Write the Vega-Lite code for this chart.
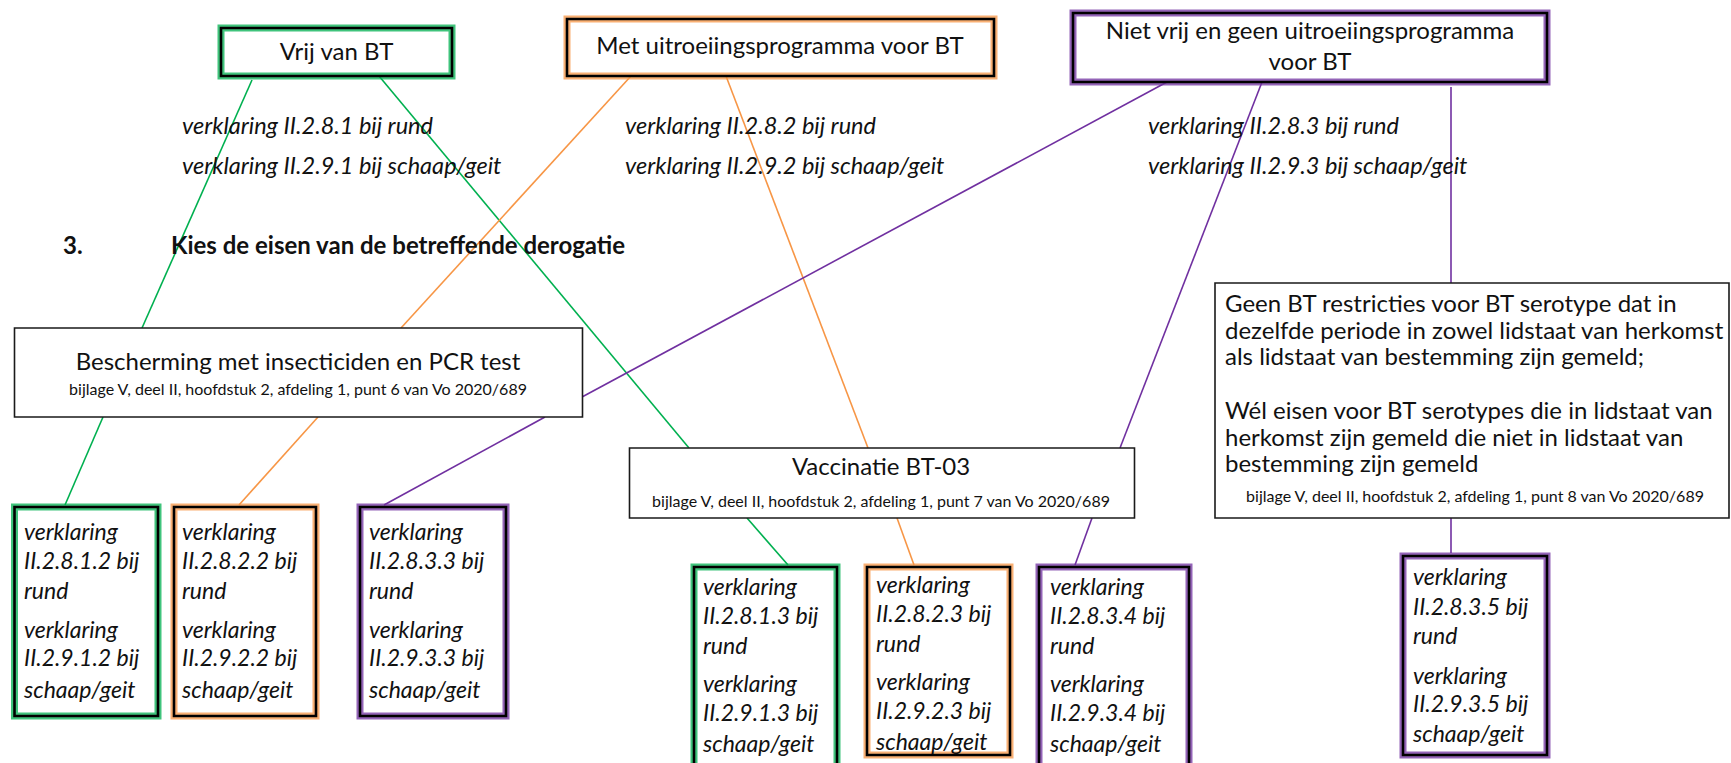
{
  "$schema": "https://vega.github.io/schema/vega-lite/v6.json",
  "width": 1731,
  "height": 763,
  "autosize": {"type": "fit", "contains": "padding"},
  "padding": 0,
  "background": "white",
  "config": {"view": {"stroke": null}},
  "datasets": {
    "glowBoxes": [
      {"name": "Vrij van BT", "grp": "vrij", "x1": 221, "x2": 452, "y1": 28, "y2": 76},
      {"name": "Met uitroeiingsprogramma", "grp": "uitroeiing", "x1": 567, "x2": 994, "y1": 19, "y2": 76},
      {"name": "Niet vrij", "grp": "niet", "x1": 1073, "x2": 1547, "y1": 13, "y2": 82},
      {"name": "II.2.8.1.2", "grp": "vrij", "x1": 14.5, "x2": 158, "y1": 507, "y2": 716},
      {"name": "II.2.8.2.2", "grp": "uitroeiing", "x1": 174, "x2": 316, "y1": 507, "y2": 716},
      {"name": "II.2.8.3.3", "grp": "niet", "x1": 360, "x2": 506, "y1": 507, "y2": 716},
      {"name": "II.2.8.1.3", "grp": "vrij", "x1": 694, "x2": 837, "y1": 567, "y2": 775},
      {"name": "II.2.8.2.3", "grp": "uitroeiing", "x1": 867, "x2": 1010, "y1": 567, "y2": 755},
      {"name": "II.2.8.3.4", "grp": "niet", "x1": 1039, "x2": 1189, "y1": 567, "y2": 775},
      {"name": "II.2.8.3.5", "grp": "niet", "x1": 1403, "x2": 1547, "y1": 556, "y2": 755}
    ],
    "plainBoxes": [
      {"name": "Bescherming", "x1": 14.5, "x2": 582.5, "y1": 328, "y2": 417},
      {"name": "Vaccinatie", "x1": 629.5, "x2": 1134.5, "y1": 448, "y2": 518},
      {"name": "Geen BT restricties", "x1": 1215, "x2": 1729, "y1": 283, "y2": 518}
    ],
    "links": [
      {"grp": "vrij", "x1": 252, "y1": 80, "x2": 142, "y2": 328},
      {"grp": "vrij", "x1": 103, "y1": 417, "x2": 65, "y2": 505},
      {"grp": "vrij", "x1": 379, "y1": 76, "x2": 689, "y2": 448},
      {"grp": "vrij", "x1": 747, "y1": 518, "x2": 788, "y2": 565},
      {"grp": "uitroeiing", "x1": 631, "y1": 76, "x2": 401, "y2": 328},
      {"grp": "uitroeiing", "x1": 318, "y1": 417, "x2": 239, "y2": 505},
      {"grp": "uitroeiing", "x1": 726, "y1": 76, "x2": 868, "y2": 448},
      {"grp": "uitroeiing", "x1": 897, "y1": 518, "x2": 914, "y2": 565},
      {"grp": "niet", "x1": 1167, "y1": 82, "x2": 582, "y2": 397},
      {"grp": "niet", "x1": 545, "y1": 417, "x2": 384, "y2": 505},
      {"grp": "niet", "x1": 1262, "y1": 82, "x2": 1120, "y2": 448},
      {"grp": "niet", "x1": 1092, "y1": 518, "x2": 1075, "y2": 565},
      {"grp": "niet", "x1": 1451, "y1": 87, "x2": 1451, "y2": 283},
      {"grp": "niet", "x1": 1451, "y1": 518, "x2": 1451, "y2": 553}
    ],
    "titles": [
      {"t": "Vrij van BT", "x": 336.5, "y": 53},
      {"t": "Met uitroeiingsprogramma voor BT", "x": 780, "y": 47},
      {"t": "Niet vrij en geen uitroeiingsprogramma", "x": 1310, "y": 32},
      {"t": "voor BT", "x": 1310, "y": 63},
      {"t": "Bescherming met insecticiden en PCR test", "x": 298, "y": 363},
      {"t": "Vaccinatie BT-03", "x": 881, "y": 468}
    ],
    "subs": [
      {"t": "bijlage V, deel II, hoofdstuk 2, afdeling 1, punt 6 van Vo 2020/689", "x": 298, "y": 390},
      {"t": "bijlage V, deel II, hoofdstuk 2, afdeling 1, punt 7 van Vo 2020/689", "x": 881, "y": 502},
      {"t": "bijlage V, deel II, hoofdstuk 2, afdeling 1, punt 8 van Vo 2020/689", "x": 1475, "y": 497}
    ],
    "verklaringTop": [
      {"t": "verklaring II.2.8.1 bij rund", "x": 182, "y": 127},
      {"t": "verklaring II.2.9.1 bij schaap/geit", "x": 182, "y": 167},
      {"t": "verklaring II.2.8.2 bij rund", "x": 625, "y": 127},
      {"t": "verklaring II.2.9.2 bij schaap/geit", "x": 625, "y": 167},
      {"t": "verklaring II.2.8.3 bij rund", "x": 1148, "y": 127},
      {"t": "verklaring II.2.9.3 bij schaap/geit", "x": 1148, "y": 167}
    ],
    "heading": [
      {"t": "3.", "x": 63, "y": 247},
      {"t": "Kies de eisen van de betreffende derogatie", "x": 171, "y": 247}
    ],
    "body": [
      {"t": "Geen BT restricties voor BT serotype dat in\ndezelfde periode in zowel lidstaat van herkomst\nals lidstaat van bestemming zijn gemeld;", "x": 1225, "y": 305},
      {"t": "Wél eisen voor BT serotypes die in lidstaat van\nherkomst zijn gemeld die niet in lidstaat van\nbestemming zijn gemeld", "x": 1225, "y": 412}
    ],
    "leaves": [
      {"t": "verklaring", "x": 24, "y": 533},
      {"t": "II.2.8.1.2 bij", "x": 24, "y": 562},
      {"t": "rund", "x": 24, "y": 592},
      {"t": "verklaring", "x": 24, "y": 631},
      {"t": "II.2.9.1.2 bij", "x": 24, "y": 659},
      {"t": "schaap/geit", "x": 24, "y": 691},
      {"t": "verklaring", "x": 182, "y": 533},
      {"t": "II.2.8.2.2 bij", "x": 182, "y": 562},
      {"t": "rund", "x": 182, "y": 592},
      {"t": "verklaring", "x": 182, "y": 631},
      {"t": "II.2.9.2.2 bij", "x": 182, "y": 659},
      {"t": "schaap/geit", "x": 182, "y": 691},
      {"t": "verklaring", "x": 369, "y": 533},
      {"t": "II.2.8.3.3 bij", "x": 369, "y": 562},
      {"t": "rund", "x": 369, "y": 592},
      {"t": "verklaring", "x": 369, "y": 631},
      {"t": "II.2.9.3.3 bij", "x": 369, "y": 659},
      {"t": "schaap/geit", "x": 369, "y": 691},
      {"t": "verklaring", "x": 703, "y": 588},
      {"t": "II.2.8.1.3 bij", "x": 703, "y": 617},
      {"t": "rund", "x": 703, "y": 647},
      {"t": "verklaring", "x": 703, "y": 685},
      {"t": "II.2.9.1.3 bij", "x": 703, "y": 714},
      {"t": "schaap/geit", "x": 703, "y": 745},
      {"t": "verklaring", "x": 876, "y": 586},
      {"t": "II.2.8.2.3 bij", "x": 876, "y": 615},
      {"t": "rund", "x": 876, "y": 645},
      {"t": "verklaring", "x": 876, "y": 683},
      {"t": "II.2.9.2.3 bij", "x": 876, "y": 712},
      {"t": "schaap/geit", "x": 876, "y": 743},
      {"t": "verklaring", "x": 1050, "y": 588},
      {"t": "II.2.8.3.4 bij", "x": 1050, "y": 617},
      {"t": "rund", "x": 1050, "y": 647},
      {"t": "verklaring", "x": 1050, "y": 685},
      {"t": "II.2.9.3.4 bij", "x": 1050, "y": 714},
      {"t": "schaap/geit", "x": 1050, "y": 745},
      {"t": "verklaring", "x": 1413, "y": 578},
      {"t": "II.2.8.3.5 bij", "x": 1413, "y": 608},
      {"t": "rund", "x": 1413, "y": 637},
      {"t": "verklaring", "x": 1413, "y": 677},
      {"t": "II.2.9.3.5 bij", "x": 1413, "y": 705},
      {"t": "schaap/geit", "x": 1413, "y": 735}
    ]
  },
  "layer": [
    {
      "data": {"name": "links"},
      "mark": {"type": "rule", "strokeWidth": 1.6, "clip": true},
      "encoding": {
        "x": {"field": "x1", "type": "quantitative", "scale": {"domain": [0, 1731], "nice": false, "zero": false}, "axis": null},
        "y": {"field": "y1", "type": "quantitative", "scale": {"domain": [0, 763], "nice": false, "zero": false, "reverse": true}, "axis": null},
        "x2": {"field": "x2"},
        "y2": {"field": "y2"},
        "color": {"field": "grp", "type": "nominal", "scale": {"domain": ["vrij", "uitroeiing", "niet"], "range": ["#00B050", "#F79646", "#7030A0"]}, "legend": null}
      }
    },
    {
      "data": {"name": "plainBoxes"},
      "mark": {"type": "rect", "fill": "white", "stroke": "#1a1a1a", "strokeWidth": 1.6, "clip": true},
      "encoding": {
        "x": {"field": "x1", "type": "quantitative", "axis": null},
        "x2": {"field": "x2"},
        "y": {"field": "y1", "type": "quantitative", "axis": null},
        "y2": {"field": "y2"}
      }
    },
    {
      "data": {"name": "glowBoxes"},
      "mark": {"type": "rect", "fill": "white", "strokeWidth": 7, "strokeOpacity": 0.75, "clip": true},
      "encoding": {
        "x": {"field": "x1", "type": "quantitative", "axis": null},
        "x2": {"field": "x2"},
        "y": {"field": "y1", "type": "quantitative", "axis": null},
        "y2": {"field": "y2"},
        "stroke": {"field": "grp", "type": "nominal", "scale": {"domain": ["vrij", "uitroeiing", "niet"], "range": ["#00B050", "#F79646", "#7030A0"]}, "legend": null}
      }
    },
    {
      "data": {"name": "glowBoxes"},
      "mark": {"type": "rect", "fill": null, "fillOpacity": 0, "stroke": "#000000", "strokeWidth": 2.6, "clip": true},
      "encoding": {
        "x": {"field": "x1", "type": "quantitative", "axis": null},
        "x2": {"field": "x2"},
        "y": {"field": "y1", "type": "quantitative", "axis": null},
        "y2": {"field": "y2"}
      }
    },
    {
      "data": {"name": "titles"},
      "mark": {"type": "text", "font": "Lato", "fontSize": 24, "align": "center", "baseline": "middle", "color": "#111111"},
      "encoding": {
        "x": {"field": "x", "type": "quantitative"},
        "y": {"field": "y", "type": "quantitative"},
        "text": {"field": "t"}
      }
    },
    {
      "data": {"name": "subs"},
      "mark": {"type": "text", "font": "Lato", "fontSize": 16, "align": "center", "baseline": "middle", "color": "#111111"},
      "encoding": {
        "x": {"field": "x", "type": "quantitative"},
        "y": {"field": "y", "type": "quantitative"},
        "text": {"field": "t"}
      }
    },
    {
      "data": {"name": "verklaringTop"},
      "mark": {"type": "text", "font": "Lato", "fontSize": 23.5, "fontStyle": "italic", "align": "left", "baseline": "middle", "color": "#111111"},
      "encoding": {
        "x": {"field": "x", "type": "quantitative"},
        "y": {"field": "y", "type": "quantitative"},
        "text": {"field": "t"}
      }
    },
    {
      "data": {"name": "heading"},
      "mark": {"type": "text", "font": "Lato", "fontSize": 24, "fontWeight": "bold", "align": "left", "baseline": "middle", "color": "#111111"},
      "encoding": {
        "x": {"field": "x", "type": "quantitative"},
        "y": {"field": "y", "type": "quantitative"},
        "text": {"field": "t"}
      }
    },
    {
      "data": {"name": "body"},
      "mark": {"type": "text", "font": "Lato", "fontSize": 24, "lineHeight": 26.5, "lineBreak": "\n", "align": "left", "baseline": "middle", "color": "#111111"},
      "encoding": {
        "x": {"field": "x", "type": "quantitative"},
        "y": {"field": "y", "type": "quantitative"},
        "text": {"field": "t"}
      }
    },
    {
      "data": {"name": "leaves"},
      "mark": {"type": "text", "font": "Lato", "fontSize": 23, "fontStyle": "italic", "align": "left", "baseline": "middle", "color": "#111111"},
      "encoding": {
        "x": {"field": "x", "type": "quantitative"},
        "y": {"field": "y", "type": "quantitative"},
        "text": {"field": "t"}
      }
    }
  ]
}
